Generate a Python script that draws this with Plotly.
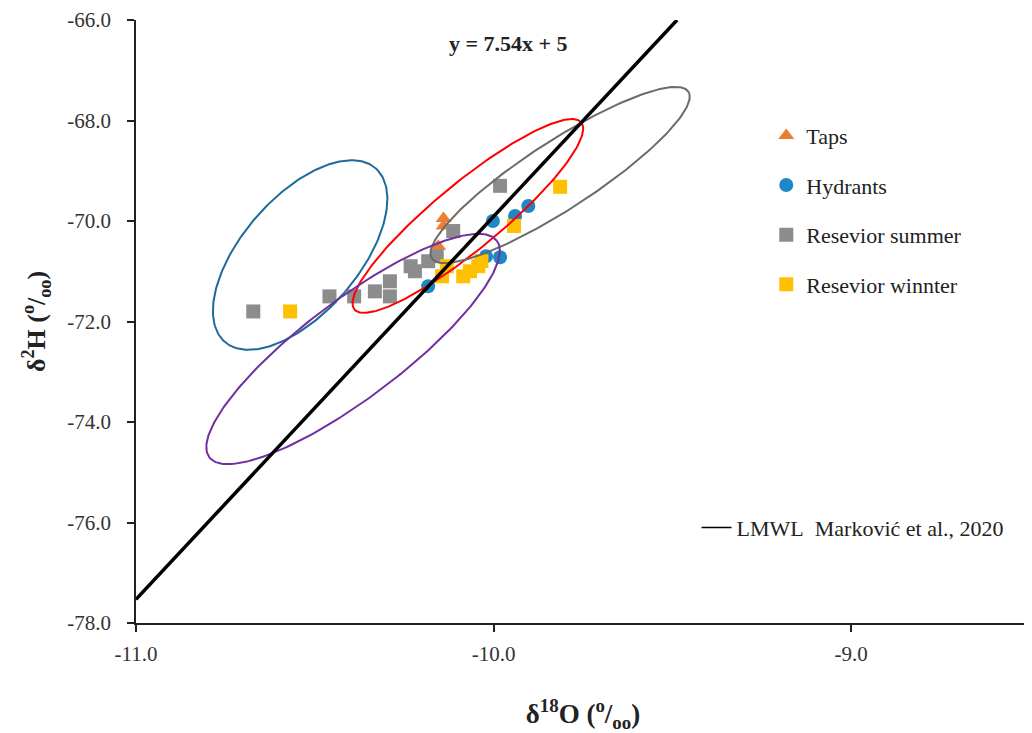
import numpy as np
import plotly.graph_objects as go

# ---------------- data ----------------
taps_x = [-10.14, -10.14, -10.155]
taps_y = [-69.95, -70.10, -70.50]

hydr_x = [-9.903, -9.940, -10.002, -10.021, -9.982, -10.183]
hydr_y = [-69.70, -69.90, -70.00, -70.70, -70.72, -71.30]

summer_x = [-10.672, -10.459, -10.390, -10.332, -10.290, -10.290, -10.232, -10.220, -10.183, -10.159, -10.113, -9.982]
summer_y = [-71.80, -71.50, -71.50, -71.40, -71.20, -71.50, -70.90, -71.00, -70.80, -70.70, -70.20, -69.30]

winter_x = [-10.569, -9.814, -9.943, -10.144, -10.131, -10.085, -10.066, -10.043, -10.034]
winter_y = [-71.80, -69.32, -70.10, -71.10, -70.90, -71.10, -71.00, -70.90, -70.80]

lmwl_x = [-11.0, -9.487]
lmwl_y = [-77.53, -66.0]

x_ticks = [-11.0, -10.0, -9.0]
y_ticks = [-78.0, -76.0, -74.0, -72.0, -70.0, -68.0, -66.0]

# ------------- layout geometry -------------
# page body has an 8px margin, so the figure is drawn 8px in from the corner
W, H = 1024, 725
ML, MR, MT, MB = 128, 2, 12, 110
XR = [-11.0, -8.5]
YR = [-78.0, -66.0]
PX_X = (W - ML - MR) / (XR[1] - XR[0])
PX_Y = (H - MT - MB) / (YR[1] - YR[0])

# ellipse outlines: centre (data), semi-axes (px), tilt (deg), colour
ellipses = [
    (-10.541, -70.677, 115, 58, 49, "#1B6C9A"),
    (-10.072, -69.900, 147, 33, 39.5, "#FF0000"),
    (-9.814, -69.085, 153, 34, 33, "#6B6B6B"),
    (-10.393, -72.547, 180, 49, 37, "#7030A0"),
]

SERIF = "Liberation Serif, Times New Roman, serif"

fig = go.Figure()

fig.add_trace(go.Scatter(x=taps_x, y=taps_y, mode="markers", name="Taps",
                         legendgroup="a",
                         marker=dict(symbol="triangle-up", size=14, color="#ED7D31")))
fig.add_trace(go.Scatter(x=hydr_x, y=hydr_y, mode="markers", name="Hydrants",
                         legendgroup="b",
                         marker=dict(symbol="circle", size=14, color="#1E87C5")))
fig.add_trace(go.Scatter(x=summer_x, y=summer_y, mode="markers", name="Resevior summer",
                         legendgroup="c",
                         marker=dict(symbol="square", size=14, color="#8C8C8C")))
fig.add_trace(go.Scatter(x=winter_x, y=winter_y, mode="markers", name="Resevior winnter",
                         legendgroup="d",
                         marker=dict(symbol="square", size=14, color="#FFC000")))

t = np.linspace(0, 2 * np.pi, 241)
for cx, cy, a, b, ang, col in ellipses:
    th = np.deg2rad(ang)
    ex = cx + (a * np.cos(th) * np.cos(t) - b * np.sin(th) * np.sin(t)) / PX_X
    ey = cy + (a * np.sin(th) * np.cos(t) + b * np.cos(th) * np.sin(t)) / PX_Y
    fig.add_trace(go.Scatter(x=ex, y=ey, mode="lines", showlegend=False,
                             hoverinfo="skip", line=dict(color=col, width=2)))

fig.add_trace(go.Scatter(x=lmwl_x, y=lmwl_y, mode="lines", showlegend=False,
                         line=dict(color="black", width=3.5)))
# legend-only entry for LMWL (thin line symbol as in the original)
fig.add_trace(go.Scatter(x=[None], y=[None], mode="lines",
                         name="LMWL\u00a0\u00a0Marković et al., 2020",
                         legend="legend2", line=dict(color="black", width=1.5)))

fig.add_annotation(x=0.417, y=0.985, xref="paper", yref="paper",
                   text="<b>y = 7.54x + 5</b>", showarrow=False,
                   font=dict(family=SERIF, size=22, color="#222"))

axis_common = dict(showgrid=False, zeroline=False, showline=True,
                   linecolor="#222", linewidth=1.5, ticks="outside",
                   ticklen=7, tickcolor="#222", tickwidth=1.5,
                   tickfont=dict(family=SERIF, size=21, color="#333"),
                   mirror=False)

fig.update_xaxes(range=XR, tickvals=x_ticks,
                 ticktext=[f"{v:.1f}" for v in x_ticks], ticklabelstandoff=4,
                 title=dict(text="<b>δ<sup>18</sup>O (<sup>o</sup>/<sub>oo</sub>)</b>",
                            font=dict(family=SERIF, size=27, color="#222"),
                            standoff=40),
                 **axis_common)
fig.update_yaxes(range=YR, tickvals=y_ticks,
                 ticktext=[f"{v:.1f}" for v in y_ticks], ticklabelstandoff=12,
                 title=dict(text="<b>δ<sup>2</sup>H (<sup>o</sup>/<sub>oo</sub>)</b>",
                            font=dict(family=SERIF, size=26, color="#222"),
                            standoff=14),
                 **axis_common)

fig.update_layout(
    width=W, height=H,
    margin=dict(l=ML, r=MR, t=MT, b=MB, autoexpand=False),
    plot_bgcolor="white", paper_bgcolor="white",
    font=dict(family=SERIF, color="#222"),
    legend=dict(x=0.705, y=0.843, xanchor="left", yanchor="top",
                font=dict(family=SERIF, size=22, color="#222"),
                tracegroupgap=18, bgcolor="rgba(0,0,0,0)", itemsizing="trace"),
    legend2=dict(x=0.627, y=0.158, xanchor="left", yanchor="middle",
                 font=dict(family=SERIF, size=22, color="#222"),
                 bgcolor="rgba(0,0,0,0)"),
)

fig.write_html("out.html")
